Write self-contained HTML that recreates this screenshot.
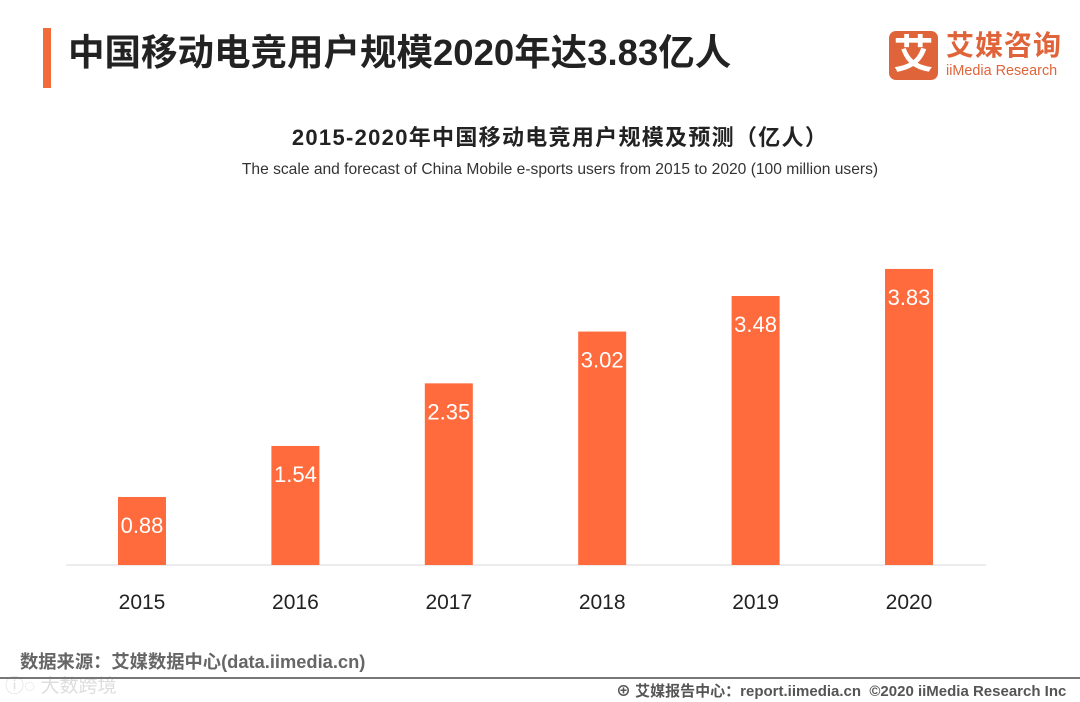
<!DOCTYPE html>
<html><head><meta charset="utf-8"><style>
body{margin:0;width:1080px;height:702px;background:#fff;overflow:hidden;position:relative;font-family:"Liberation Sans","Noto Sans CJK SC",sans-serif}
.a{position:absolute;white-space:nowrap}
</style></head><body>
<div class="a" style="left:43px;top:28px;width:8px;height:60px;background:#f26b3a"></div>
<div class="a" style="left:68px;top:29px;font-size:36.5px;font-weight:bold;color:#222;line-height:48px">中国移动电竞用户规模2020年达3.83亿人</div>
<div class="a" style="left:889px;top:31px;width:49px;height:49px;background:#e0643a;border-radius:7px;color:#fff;font-size:40px;font-weight:bold;text-align:center;line-height:49px">艾</div>
<div class="a" style="left:946px;top:28px;font-size:28px;font-weight:bold;color:#e0643a;line-height:36px;letter-spacing:1px">艾媒咨询</div>
<div class="a" style="left:946px;top:62px;font-size:14.4px;color:#e0643a;line-height:18px">iiMedia Research</div>
<div class="a" style="left:0;width:1120px;text-align:center;top:120px;font-size:22px;letter-spacing:1.3px;font-weight:bold;color:#222">2015-2020年中国移动电竞用户规模及预测（亿人）</div>
<div class="a" style="left:0;width:1120px;text-align:center;top:161px;font-size:15.6px;color:#333">The scale and forecast of China Mobile e-sports users from 2015 to 2020 (100 million users)</div>
<svg class="a" style="left:0;top:0" width="1080" height="702">
<line x1="66" y1="565" x2="986" y2="565" stroke="#d9d9d9" stroke-width="1"/>
<g id="bars"></g>
</svg>
<div class="a" style="left:20px;top:648px;font-size:18.3px;font-weight:bold;color:#666">数据来源：艾媒数据中心(data.iimedia.cn)</div>
<div class="a" style="left:5px;top:671px;font-size:19px;color:#ddd">ⓘ◌ 大数跨境</div>
<div class="a" style="left:0;top:677px;width:1080px;height:2px;background:#777"></div>
<div class="a" style="left:616px;top:680px;font-size:15px;font-weight:bold;color:#555">⊕ 艾媒报告中心：report.iimedia.cn &nbsp;©2020 iiMedia Research Inc</div>
<script>
const categories=["2015","2016","2017","2018","2019","2020"];
const values=[0.88,1.54,2.35,3.02,3.48,3.83];
const g=document.getElementById('bars');
const ns='http://www.w3.org/2000/svg';
const base=565, ppu=77.3, x0=142, step=153.4, bw=48;
const xs=i=>x0+i*step, ys=v=>base-v*ppu;
categories.forEach((c,i)=>{
  const r=document.createElementNS(ns,'rect');
  
  
  r.setAttribute('x',xs(i)-bw/2);r.setAttribute('y',ys(values[i]));
  r.setAttribute('width',bw);r.setAttribute('height',base-ys(values[i]));
  r.setAttribute('fill','#ff6b3d');g.appendChild(r);
  const t=document.createElementNS(ns,'text');
  
  
  t.setAttribute('x',xs(i));t.setAttribute('y',ys(values[i])+36);
  t.setAttribute('text-anchor','middle');t.setAttribute('fill','#fff');t.setAttribute('font-size','22');
  t.textContent=values[i].toFixed(2);g.appendChild(t);
  const l=document.createElementNS(ns,'text');
  
  
  l.setAttribute('x',xs(i));l.setAttribute('y',609);
  l.setAttribute('text-anchor','middle');l.setAttribute('fill','#222');l.setAttribute('font-size','21');
  l.textContent=c;g.appendChild(l);
});
</script>
</body></html>
